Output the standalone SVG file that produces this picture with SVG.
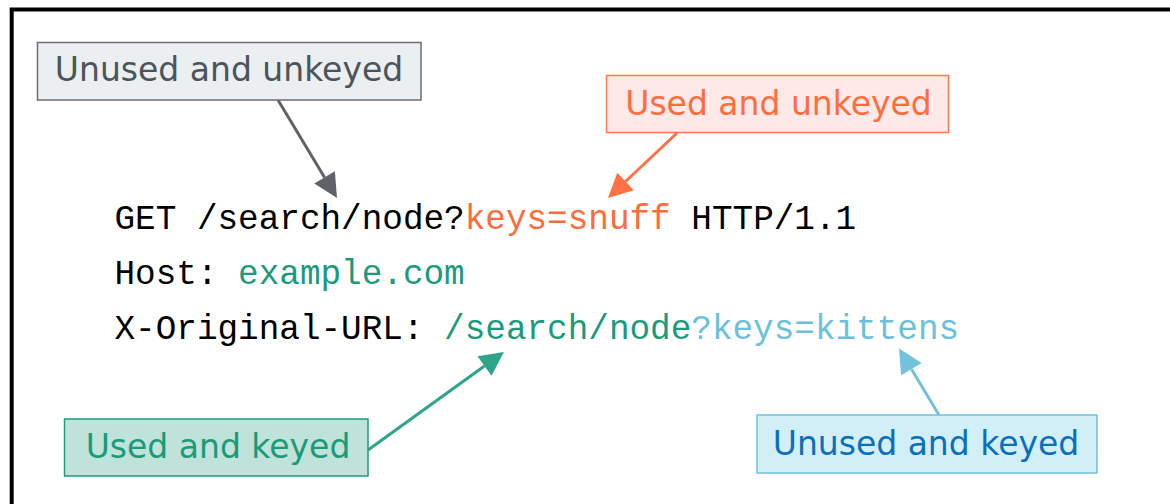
<svg xmlns="http://www.w3.org/2000/svg" width="1170" height="504" viewBox="0 0 1170 504">
  <style>
    .lbl { font-family: "DejaVu Sans", Verdana, sans-serif; font-size: 33px; text-anchor: middle; }
    .code { font-family: "Liberation Mono", "Courier New", monospace; font-size: 34.33px; fill: #000; }
    .box { stroke-width: 1.5; }
    .conn { fill: none; stroke-width: 3; }
  </style>
  <defs>
    <marker id="ah-grey" markerUnits="userSpaceOnUse" markerWidth="26" markerHeight="26" refX="0" refY="12" orient="auto" overflow="visible">
      <path d="M0,0 L24,12 L0,24 z" fill="#5f6368"/>
    </marker>
    <marker id="ah-orange" markerUnits="userSpaceOnUse" markerWidth="26" markerHeight="26" refX="0" refY="12" orient="auto" overflow="visible">
      <path d="M0,0 L24,12 L0,24 z" fill="#ff7043"/>
    </marker>
    <marker id="ah-teal" markerUnits="userSpaceOnUse" markerWidth="26" markerHeight="26" refX="0" refY="12" orient="auto" overflow="visible">
      <path d="M0,0 L24,12 L0,24 z" fill="#2ea58a"/>
    </marker>
    <marker id="ah-blue" markerUnits="userSpaceOnUse" markerWidth="26" markerHeight="26" refX="0" refY="12" orient="auto" overflow="visible">
      <path d="M0,0 L24,12 L0,24 z" fill="#72c2dc"/>
    </marker>
  </defs>

  <rect x="0" y="0" width="1170" height="504" fill="#ffffff"/>
  <rect x="11.7" y="9.5" width="1200" height="600" fill="none" stroke="#000" stroke-width="4"/>

  <g id="request">
    <text class="code" x="114.5" y="229">GET /search/node?<tspan fill="#ff6b3b">keys=snuff</tspan> HTTP/1.1</text>
    <text class="code" x="114.5" y="284">Host: <tspan fill="#1a9b7b">example.com</tspan></text>
    <text class="code" x="114.5" y="339">X-Original-URL: <tspan fill="#1a9b7b">/search/node</tspan><tspan fill="#6bc0db">?keys=kittens</tspan></text>
  </g>

  <g id="connectors">
    <line class="conn" x1="278" y1="100" x2="324.6" y2="177.4" stroke="#5f6368" marker-end="url(#ah-grey)"/>
    <line class="conn" x1="677" y1="133" x2="625.5" y2="181.5" stroke="#ff7043" marker-end="url(#ah-orange)"/>
    <line class="conn" x1="368" y1="450" x2="484.5" y2="366" stroke="#2ea58a" marker-end="url(#ah-teal)"/>
    <line class="conn" x1="939" y1="415" x2="911.4" y2="369.1" stroke="#72c2dc" marker-end="url(#ah-blue)"/>
  </g>

  <g id="unused-unkeyed">
    <rect class="box" x="37.5" y="42.5" width="383.5" height="57.5" fill="#ebeff2" stroke="#6b6e70"/>
    <text class="lbl" x="229" y="81" fill="#4d5459">Unused and unkeyed</text>
  </g>

  <g id="used-unkeyed">
    <rect class="box" x="606.5" y="75.5" width="342" height="57" fill="#fde9e7" stroke="#ff7a50"/>
    <text class="lbl" x="778.5" y="115" fill="#ff6d3f">Used and unkeyed</text>
  </g>

  <g id="used-keyed">
    <rect class="box" x="64.5" y="419" width="303.5" height="57" fill="#bfe3da" stroke="#1a9e7e"/>
    <text class="lbl" x="218" y="458" fill="#1a9a78">Used and keyed</text>
  </g>

  <g id="unused-keyed">
    <rect class="box" x="757" y="415" width="340" height="58" fill="#d2eff7" stroke="#72c2dc"/>
    <text class="lbl" x="926" y="455" fill="#0a6fbd">Unused and keyed</text>
  </g>
</svg>
